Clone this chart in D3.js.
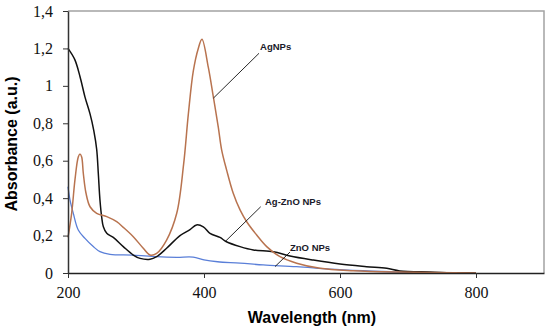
<!DOCTYPE html>
<html>
<head>
<meta charset="utf-8">
<script src="https://cdn.jsdelivr.net/npm/d3@7"></script>
<style>
  body { margin: 0; background: #fff; }
  #chart { width: 550px; height: 330px; }
</style>
</head>
<body>
<div id="chart"></div>
<script>
// wavelength (nm) and absorbance
var agZnoWl  = [200, 210, 217.6, 225, 232.4, 238, 242.2, 244.6, 247, 249.5, 252, 257, 266.6, 281.3, 296, 306, 320.6, 330.4, 345, 364.7, 379.4, 389, 399, 408.8, 423.5, 433, 453, 472.5, 502, 526.5, 560.8, 600, 639, 668.7, 688, 732, 757, 800];
var agZnoAbs = [1.20, 1.14, 1.05, 0.94, 0.85, 0.76, 0.66, 0.53, 0.39, 0.30, 0.247, 0.212, 0.19, 0.141, 0.096, 0.078, 0.073, 0.087, 0.132, 0.20, 0.232, 0.257, 0.247, 0.212, 0.19, 0.167, 0.141, 0.123, 0.114, 0.091, 0.069, 0.048, 0.034, 0.025, 0.011, 0.005, 0.002, 0];

var agWl  = [200, 205.4, 210.3, 215.1, 217.6, 220.1, 222.5, 226.5, 232.4, 242.2, 257, 271.6, 281.3, 296, 310.7, 320.6, 330.4, 345, 359.9, 370, 377, 384.3, 391.6, 397, 406.3, 413.7, 421, 426, 433.3, 443, 453, 462.8, 477.5, 492.2, 511.8, 536.3, 570.6, 619.6, 683.4, 800];
var agAbs = [0.19, 0.32, 0.50, 0.62, 0.636, 0.62, 0.533, 0.426, 0.354, 0.319, 0.301, 0.274, 0.244, 0.194, 0.132, 0.096, 0.105, 0.176, 0.319, 0.58, 0.85, 1.08, 1.20, 1.249, 1.10, 0.942, 0.78, 0.657, 0.55, 0.426, 0.337, 0.274, 0.203, 0.141, 0.087, 0.052, 0.025, 0.012, 0.005, 0];

var znoWl  = [200, 203, 207.8, 215.1, 225, 237.2, 247, 261.8, 296, 330.4, 360, 384, 400, 420, 453, 487, 536, 585, 634, 683, 750];
var znoAbs = [0.461, 0.39, 0.319, 0.23, 0.185, 0.141, 0.114, 0.10, 0.096, 0.087, 0.084, 0.085, 0.07, 0.06, 0.053, 0.043, 0.034, 0.021, 0.012, 0.005, 0];

var xTicks = [200, 400, 600, 800];
var yTicks = [0, 0.2, 0.4, 0.6, 0.8, 1, 1.2, 1.4];
var yTickLabels = ["0", "0,2", "0,4", "0,6", "0,8", "1", "1,2", "1,4"];

// callout labels: text position and leader line, in data units
var labelNames = ["AgNPs", "Ag-ZnO NPs", "ZnO NPs"];
var labelAt    = [[482.4, 1.192], [489.7, 0.363], [526.5, 0.1176]];
var leaderFrom = [[480.9, 1.174], [483.4, 0.354], [526.5, 0.112]];
var leaderTo   = [[413.7, 0.934], [430.9, 0.167], [504.4, 0.034]];

function init() {
    var w = 550;
    var h = 330;
    var margin = {top: 11, right: 6, bottom: 57, left: 68};

    var svg = d3.select("#chart")
            .append("svg")
            .attr("width", w)
            .attr("height", h);

    var x = d3.scaleLinear()
            .domain([200, 900])
            .range([margin.left, w - margin.right]);

    var y = d3.scaleLinear()
            .domain([0, 1.4])
            .range([h - margin.bottom, margin.top]);

    // grey frame on top and right
    svg.append("path")
        .attr("d", "M" + x(200) + "," + y(1.4) + "H" + x(900) + "V" + y(0))
        .attr("fill", "none")
        .attr("stroke", "#a3a3a3")
        .attr("stroke-width", 1.5);

    function zip(a, b) {
        return a.map(function(v, i) { return [v, b[i]]; });
    }

    var line = d3.line()
            .x(function(d) { return x(d[0]); })
            .y(function(d) { return y(d[1]); })
            .curve(d3.curveCatmullRom.alpha(0.5));

    var series = [
        {data: zip(znoWl, znoAbs), color: "#5a7fd8", width: 1.3},
        {data: zip(agZnoWl, agZnoAbs), color: "#111", width: 1.5},
        {data: zip(agWl, agAbs), color: "#b8734f", width: 1.5}
    ];

    svg.selectAll("path.series")
        .data(series)
        .enter()
        .append("path")
        .attr("class", "series")
        .attr("d", function(d) { return line(d.data); })
        .attr("fill", "none")
        .attr("stroke", function(d) { return d.color; })
        .attr("stroke-width", function(d) { return d.width; })
        .attr("stroke-linejoin", "round");

    // axes
    var xAxis = d3.axisBottom(x)
            .tickValues(xTicks)
            .tickSize(5)
            .tickSizeOuter(0)
            .tickPadding(9);

    var yAxis = d3.axisLeft(y)
            .tickValues(yTicks)
            .tickFormat(function(d, i) { return yTickLabels[i]; })
            .tickSize(5)
            .tickSizeOuter(0)
            .tickPadding(10);

    var gx = svg.append("g")
        .attr("transform", "translate(0," + y(0) + ")")
        .call(xAxis);
    gx.select(".domain").attr("stroke", "#222").attr("stroke-width", 1.5);

    var gy = svg.append("g")
        .attr("transform", "translate(" + x(200) + ",0)")
        .call(yAxis);
    gy.select(".domain").attr("stroke", "#333").attr("stroke-width", 1.5);

    svg.selectAll(".tick line").attr("stroke", "#333");
    svg.selectAll(".tick text")
        .attr("fill", "#111")
        .style("font-family", "'Liberation Serif', 'Times New Roman', serif")
        .style("font-size", "16px");

    // axis titles
    svg.append("text")
        .attr("x", (x(200) + x(900)) / 2 + 6)
        .attr("y", 323)
        .attr("text-anchor", "middle")
        .style("font-family", "'Liberation Sans', Arial, sans-serif")
        .style("font-weight", "bold")
        .style("font-size", "16px")
        .text("Wavelength (nm)");

    svg.append("text")
        .attr("transform", "translate(17," + ((y(0) + y(1.4)) / 2 + 2) + ") rotate(-90)")
        .attr("text-anchor", "middle")
        .style("font-family", "'Liberation Sans', Arial, sans-serif")
        .style("font-weight", "bold")
        .style("font-size", "16px")
        .text("Absorbance (a.u.)");

    // callouts
    labelNames.forEach(function(name, i) {
        svg.append("line")
            .attr("x1", x(leaderFrom[i][0]))
            .attr("y1", y(leaderFrom[i][1]))
            .attr("x2", x(leaderTo[i][0]))
            .attr("y2", y(leaderTo[i][1]))
            .attr("stroke", "#111")
            .attr("stroke-width", 0.9);

        svg.append("text")
            .attr("x", x(labelAt[i][0]))
            .attr("y", y(labelAt[i][1]))
            .attr("fill", "#1a1a2a")
            .style("font-family", "'Liberation Sans', Arial, sans-serif")
            .style("font-weight", "bold")
            .style("font-size", "9.5px")
            .text(name);
    });
}

window.onload = init;
</script>
</body>
</html>
